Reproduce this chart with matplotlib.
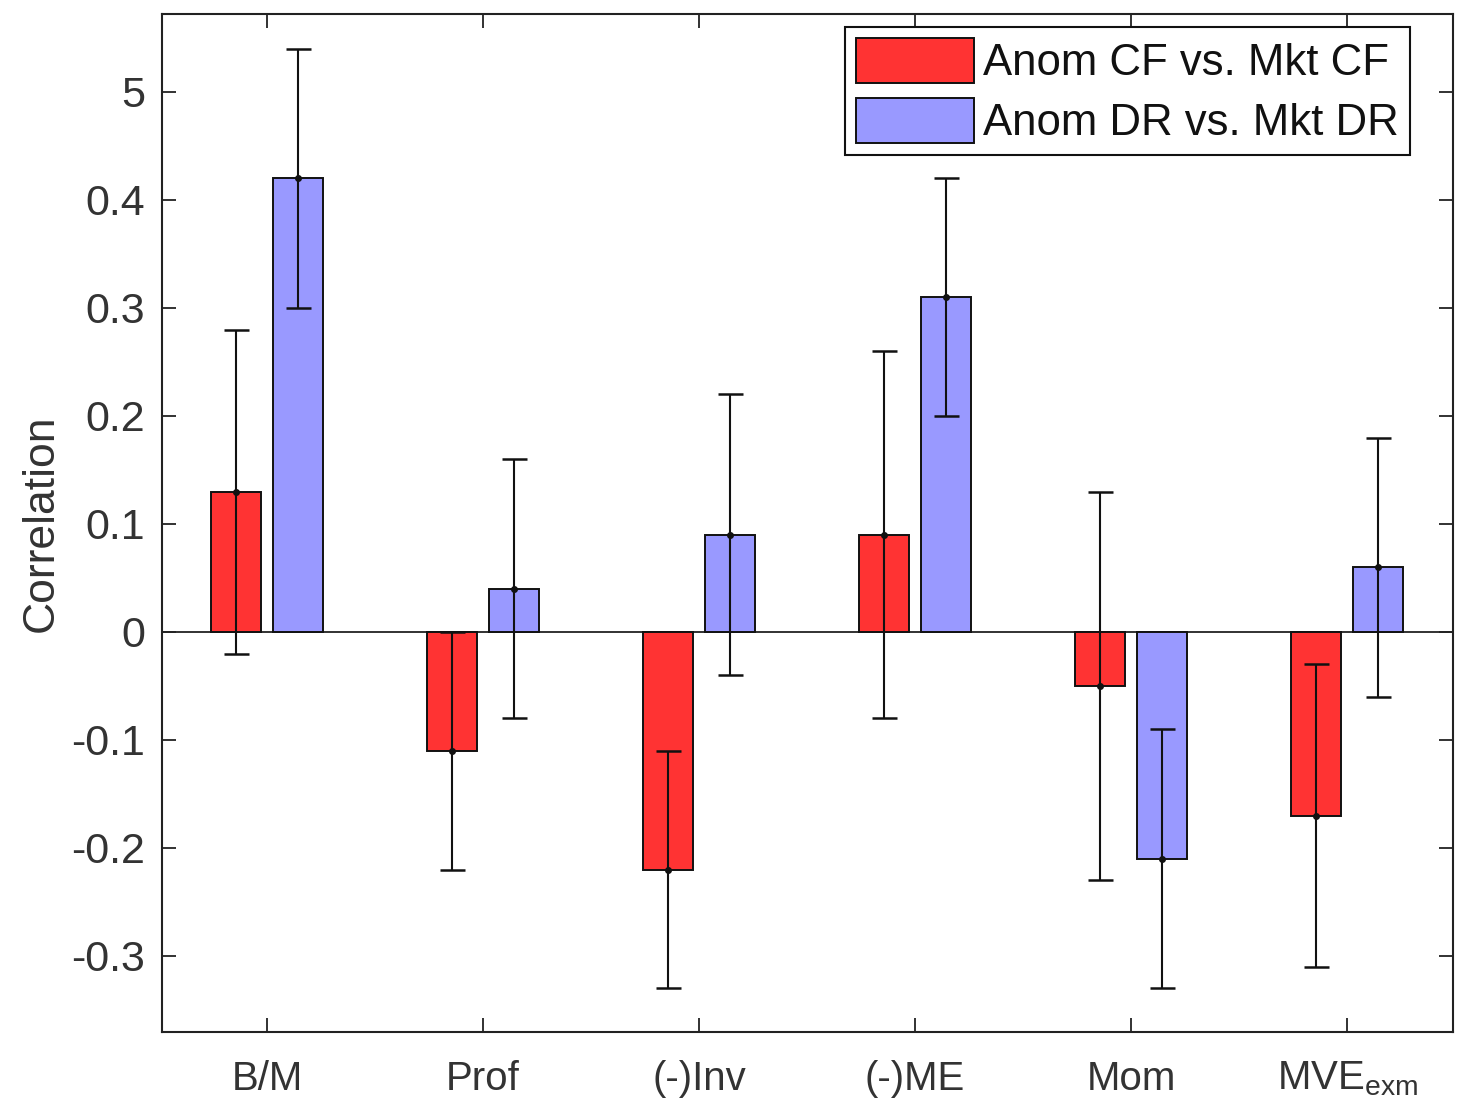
import matplotlib
matplotlib.use('Agg')
import matplotlib.pyplot as plt
import numpy as np

categories = ['B/M', 'Prof', '(-)Inv', '(-)ME', 'Mom', r'MVE$_{\mathregular{exm}}$']
cf_values = [0.13, -0.11, -0.22, 0.09, -0.05, -0.17]
cf_lower = [-0.02, -0.22, -0.33, -0.08, -0.23, -0.31]
cf_upper = [0.28, 0.00, -0.11, 0.26, 0.13, -0.03]
dr_values = [0.42, 0.04, 0.09, 0.31, -0.21, 0.06]
dr_lower = [0.30, -0.08, -0.04, 0.20, -0.33, -0.06]
dr_upper = [0.54, 0.16, 0.22, 0.42, -0.09, 0.18]
series_labels = ['Anom CF vs. Mkt CF', 'Anom DR vs. Mkt DR']
ytick_values = [-0.3, -0.2, -0.1, 0, 0.1, 0.2, 0.3, 0.4, 0.5]
ytick_labels = ['-0.3', '-0.2', '-0.1', '0', '0.1', '0.2', '0.3', '0.4', '5']

plt.rcParams['font.family'] = ['Liberation Sans', 'DejaVu Sans']
plt.rcParams['mathtext.fontset'] = 'custom'
plt.rcParams['mathtext.rm'] = 'Liberation Sans'

fig = plt.figure(figsize=(14.6, 11.16), dpi=100)
ax = fig.add_axes([162/1460, 1 - 1032/1116, (1453-162)/1460, (1032-14)/1116])

x = np.arange(1, len(categories) + 1)
off = 0.1435
w = 0.231
red = '#FF3333'
blue = '#9999FF'

ax.axhline(0, color='#222222', lw=1.3, zorder=1)
ax.bar(x - off, cf_values, w, color=red, edgecolor='#111111', lw=1.4, label=series_labels[0], zorder=2)
ax.bar(x + off, dr_values, w, color=blue, edgecolor='#111111', lw=1.4, label=series_labels[1], zorder=2)

cf_v = np.array(cf_values); dr_v = np.array(dr_values)
cf_err = [cf_v - np.array(cf_lower), np.array(cf_upper) - cf_v]
dr_err = [dr_v - np.array(dr_lower), np.array(dr_upper) - dr_v]
for xs, v, e in [(x - off, cf_v, cf_err), (x + off, dr_v, dr_err)]:
    ax.errorbar(xs, v, yerr=e, fmt='.', color='#111111', ms=8, elinewidth=1.5,
                capsize=9, capthick=1.8, zorder=3)

ax.set_xlim(0.514, 6.49)
ax.set_ylim(-0.3704, 0.5722)
ax.set_xticks(x)
ax.set_xticklabels(categories)
ax.set_yticks(ytick_values)
ax.set_yticklabels(ytick_labels)
ax.tick_params(direction='in', length=10, width=1.3, top=True, right=True,
               colors='#222222', labelcolor='#333333')
ax.tick_params(axis='x', labelsize=29, pad=20)
ax.tick_params(axis='y', labelsize=31, pad=12)
for s in ax.spines.values():
    s.set_linewidth(1.5)
    s.set_color('#222222')
ax.set_ylabel('Correlation', fontsize=32, color='#333333', labelpad=7)

leg = ax.legend(loc='upper right', bbox_to_anchor=(0.9667, 0.9872), borderaxespad=0,
                fontsize=31.5, fancybox=False, edgecolor='#111111', framealpha=1,
                handlelength=2.7, handleheight=1.2, handletextpad=0.22,
                labelspacing=0.31, borderpad=0.25)
leg.get_frame().set_linewidth(1.5)
for t in leg.get_texts():
    t.set_color('#111111')

fig.savefig('out.png', dpi=100)
